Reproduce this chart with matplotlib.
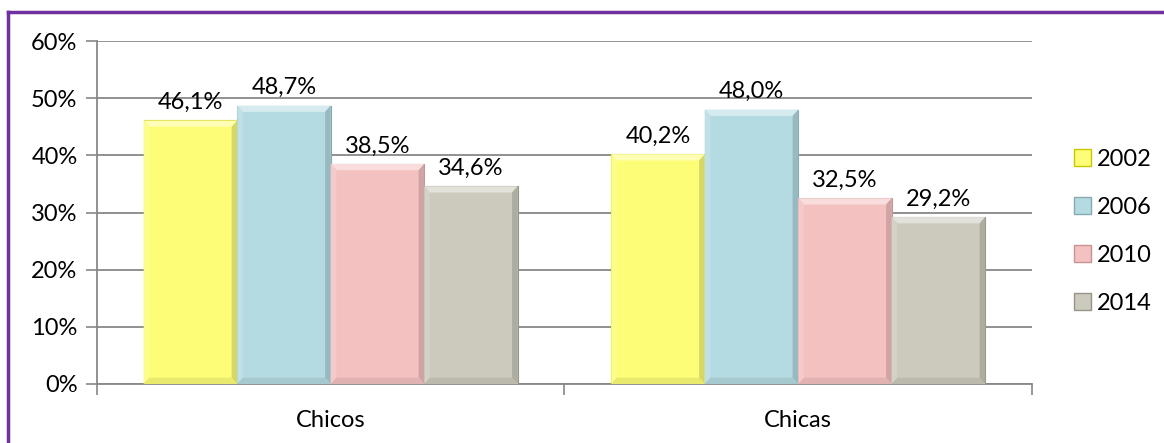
import matplotlib.pyplot as plt
import numpy as np
from matplotlib.patches import Patch, Polygon
from matplotlib.lines import Line2D

# data
categories = ['Chicos', 'Chicas']
years = ['2002', '2006', '2010', '2014']
values = {
    '2002': [46.1, 40.2],
    '2006': [48.7, 48.0],
    '2010': [38.5, 32.5],
    '2014': [34.6, 29.2],
}
colors = ['#FDFD78', '#B4DAE2', '#F4C1C1', '#CCCABC']
edges = ['#C8C800', '#86A9B3', '#C89393', '#96948A']

plt.rcParams['font.family'] = ['Lato', 'DejaVu Sans']

fig = plt.figure(figsize=(11.64, 4.43), dpi=100)
ax = fig.add_axes([0.0833, 0.1332, 0.8033, 0.7742])

x = np.arange(len(categories))
width = 0.2


def mix(c, other, t):
    a = np.array(plt.matplotlib.colors.to_rgb(c))
    b = np.array(plt.matplotlib.colors.to_rgb(other))
    return tuple(a * (1 - t) + b * t)


bx, by = 0.012, 1.1
for i, yr in enumerate(years):
    pos = x - 1.5 * width + i * width
    bars = ax.bar(pos, values[yr], width, color=colors[i], edgecolor=edges[i],
                  linewidth=0.8, label=yr, zorder=3)
    for b, v in zip(bars, values[yr]):
        x0, x1 = b.get_x(), b.get_x() + b.get_width()
        y0, y1 = 0, v
        # bevel: top light, left light, right dark, bottom dark
        ax.add_patch(Polygon([(x0, y1), (x1, y1), (x1 - bx, y1 - by), (x0 + bx, y1 - by)],
                             closed=True, facecolor=mix(colors[i], 'white', 0.45),
                             edgecolor='none', zorder=4))
        ax.add_patch(Polygon([(x0, y0), (x0, y1), (x0 + bx, y1 - by), (x0 + bx, y0 + by)],
                             closed=True, facecolor=mix(colors[i], 'white', 0.15),
                             edgecolor='none', zorder=4))
        ax.add_patch(Polygon([(x1, y0), (x1, y1), (x1 - bx, y1 - by), (x1 - bx, y0 + by)],
                             closed=True, facecolor=mix(colors[i], 'black', 0.15),
                             edgecolor='none', zorder=4))
        ax.add_patch(Polygon([(x0, y0), (x1, y0), (x1 - bx, y0 + by), (x0 + bx, y0 + by)],
                             closed=True, facecolor=mix(colors[i], 'black', 0.08),
                             edgecolor='none', zorder=4))
        ax.text(b.get_x() + b.get_width() / 2, v + 1.3, f'{v:.1f}%'.replace('.', ','),
                ha='center', va='bottom', fontsize=17, zorder=5)

ax.set_xlim(-0.5, 1.5)
ax.set_ylim(0, 60)
ax.set_yticks(np.arange(0, 61, 10))
ax.set_yticklabels([f'{t}%' for t in range(0, 61, 10)], fontsize=17)
ax.set_xticks(x)
ax.set_xticklabels(categories, fontsize=17)
ax.tick_params(axis='x', length=0, pad=19)
ax.set_xticks([-0.5, 0.5, 1.5], minor=True)
ax.tick_params(axis='x', which='minor', length=8, width=1.2, color='#888888')
ax.tick_params(axis='y', length=8, width=1.2, color='#888888', pad=6)
ax.yaxis.grid(True, color='#888888', linewidth=1.3, zorder=0)
ax.set_axisbelow(True)
for s in ['top', 'right']:
    ax.spines[s].set_visible(False)
for s in ['left', 'bottom']:
    ax.spines[s].set_color('#888888')
    ax.spines[s].set_linewidth(1.3)

handles = [Patch(facecolor=colors[i], edgecolor=edges[i], label=yr) for i, yr in enumerate(years)]
ax.legend(handles=handles, loc='center left', bbox_to_anchor=(0.904, 0.478),
          bbox_transform=fig.transFigure, frameon=False, fontsize=17,
          handlelength=0.75, handleheight=0.75, handletextpad=0.25, labelspacing=1.15)

# purple frame
fig.add_artist(Line2D([8 / 1164, 8 / 1164], [0, 1 - 12 / 443], color='#7030A0', linewidth=2.5))
fig.add_artist(Line2D([8 / 1164, 1], [1 - 12 / 443, 1 - 12 / 443], color='#7030A0', linewidth=2.5))

fig.savefig('out.png', dpi=100)
